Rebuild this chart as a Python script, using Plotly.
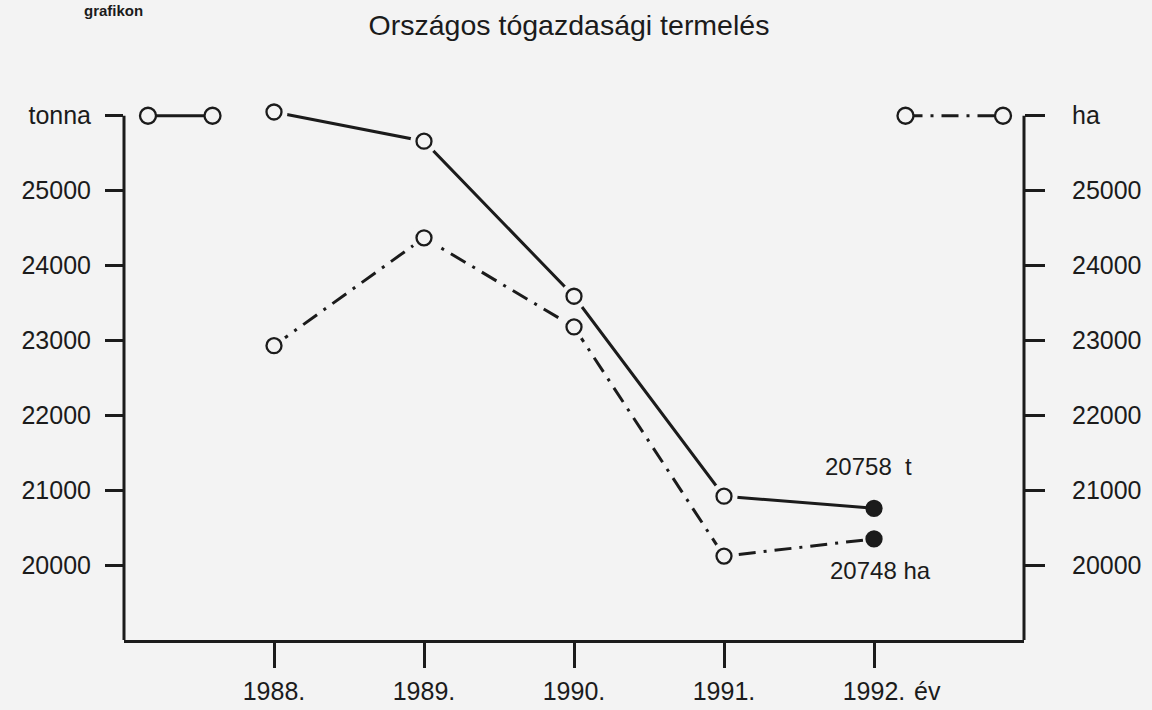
import plotly.graph_objects as go

# ---------------- data ----------------
years = [1988, 1989, 1990, 1991, 1992]
year_labels = ["1988.", "1989.", "1990.", "1991.", "1992."]
tonna = [26050, 25660, 23590, 20920, 20758]   # termelés, tonna (solid line)
ha = [22930, 24370, 23180, 20120, 20350]      # terület, ha (dash-dot line; 1992 dot as drawn)
y_tick_vals = [20000, 21000, 22000, 23000, 24000, 25000, 26000]
left_tick_text = ["20000", "21000", "22000", "23000", "24000", "25000", "tonna"]
right_tick_text = ["20000", "21000", "22000", "23000", "24000", "25000", "ha"]
label_tonna_1992 = "20758  t"
label_ha_1992 = "20748 ha"

# ---------------- style ----------------
INK = "#1b1b1b"
BG = "#f3f3f3"
FONT = "Liberation Sans, Arial, sans-serif"
DASHDOT = "17px,8px,3px,8px"
X_RANGE = [1987, 1993]
Y_RANGE = [19000, 26130]
AXIS_TOP = 26000
W, H = 1152, 710
M = dict(l=124, r=128, t=106, b=70)

fig = go.Figure()

def series(y, dash, yaxis):
    fig.add_trace(go.Scatter(x=years, y=y, mode="lines", yaxis=yaxis,
                             line=dict(color=INK, width=3, dash=dash),
                             showlegend=False, hoverinfo="skip"))

def masks(y, yaxis):
    # small gap between line and circle, as in the drawing
    fig.add_trace(go.Scatter(x=years[:-1], y=y[:-1], mode="markers", yaxis=yaxis,
                             marker=dict(symbol="circle", size=27, color=BG),
                             cliponaxis=False, showlegend=False, hoverinfo="skip"))

def points(y, yaxis):
    fig.add_trace(go.Scatter(x=years, y=y, mode="markers", yaxis=yaxis,
                             marker=dict(symbol="circle", size=15,
                                         color=[BG] * (len(years) - 1) + [INK],
                                         line=dict(color=INK, width=2.3)),
                             cliponaxis=False, showlegend=False, hoverinfo="x+y"))

series(tonna, "solid", "y")
series(ha, DASHDOT, "y2")
masks(tonna, "y")
masks(ha, "y2")
points(tonna, "y")
points(ha, "y2")

# ---------------- axis lines ending at the unit labels, legend keys ----------------
shapes = [
    dict(type="line", xref="paper", yref="y", x0=0, x1=0, y0=Y_RANGE[0], y1=AXIS_TOP,
         line=dict(color=INK, width=3)),
    dict(type="line", xref="paper", yref="y2", x0=1, x1=1, y0=Y_RANGE[0], y1=AXIS_TOP,
         line=dict(color=INK, width=3)),
]

def key(x0, x1, dash, yref):
    shapes.append(dict(type="line", xref="x", yref=yref, x0=x0, x1=x1,
                       y0=AXIS_TOP, y1=AXIS_TOP,
                       line=dict(color=INK, width=3, dash=dash)))
    for xc in (x0, x1):
        shapes.append(dict(type="circle", xref="x", yref=yref,
                           xsizemode="pixel", ysizemode="pixel",
                           xanchor=xc, yanchor=AXIS_TOP,
                           x0=-8, x1=8, y0=-8, y1=8,
                           fillcolor=BG, line=dict(color=INK, width=2.3)))

key(1987.16, 1987.59, "solid", "y")
key(1992.21, 1992.86, DASHDOT, "y2")

plot_w = W - M["l"] - M["r"]
plot_h = H - M["t"] - M["b"]

annotations = [
    dict(x=years[-1], y=tonna[-1], xref="x", yref="y", text=label_tonna_1992,
         showarrow=False, xanchor="center", yanchor="middle", xshift=-6, yshift=42,
         font=dict(family=FONT, size=24, color=INK)),
    dict(x=years[-1], y=ha[-1], xref="x", yref="y2", text=label_ha_1992,
         showarrow=False, xanchor="center", yanchor="middle", xshift=6, yshift=-32,
         font=dict(family=FONT, size=24, color=INK)),
    dict(x=years[-1], y=0, xref="x", yref="paper", text="év",
         showarrow=False, xanchor="left", yanchor="middle", xshift=38, yshift=-51,
         font=dict(family=FONT, size=25, color=INK)),
    dict(x=(145 - M["l"]) / plot_w, y=(H - M["b"]) / plot_h,
         xref="paper", yref="paper", text="<b>grafikon</b>",
         showarrow=False, xanchor="right", yanchor="top",
         font=dict(family=FONT, size=15, color=INK)),
]

axis_common = dict(showgrid=False, zeroline=False, automargin=False,
                   linecolor=INK, linewidth=3, ticks="outside",
                   tickcolor=INK, tickwidth=2.5,
                   tickfont=dict(family=FONT, size=25, color=INK))

fig.update_layout(
    width=W, height=H,
    paper_bgcolor=BG, plot_bgcolor=BG,
    margin=dict(**M, autoexpand=False),
    title=dict(text="Országos tógazdasági termelés", x=569 / W, xref="container",
               y=1 - 25 / H, yref="container", xanchor="center", yanchor="middle",
               font=dict(family=FONT, size=28.5, color=INK)),
    xaxis=dict(range=X_RANGE, tickvals=years, ticktext=year_labels, showline=True,
               ticklen=25, ticklabelstandoff=2, **axis_common),
    yaxis=dict(range=Y_RANGE, tickvals=y_tick_vals, ticktext=left_tick_text,
               showline=False, ticklen=18, ticklabelstandoff=9, **axis_common),
    yaxis2=dict(range=Y_RANGE, tickvals=y_tick_vals, ticktext=right_tick_text,
                overlaying="y", side="right", showline=False,
                ticklen=20, ticklabelstandoff=22, **axis_common),
    shapes=shapes, annotations=annotations,
    showlegend=False,
)

fig.write_html(
    "out.html",
    config={"displayModeBar": False},
    post_script="document.body.style.margin='0';document.body.style.background='%s';" % BG,
)
